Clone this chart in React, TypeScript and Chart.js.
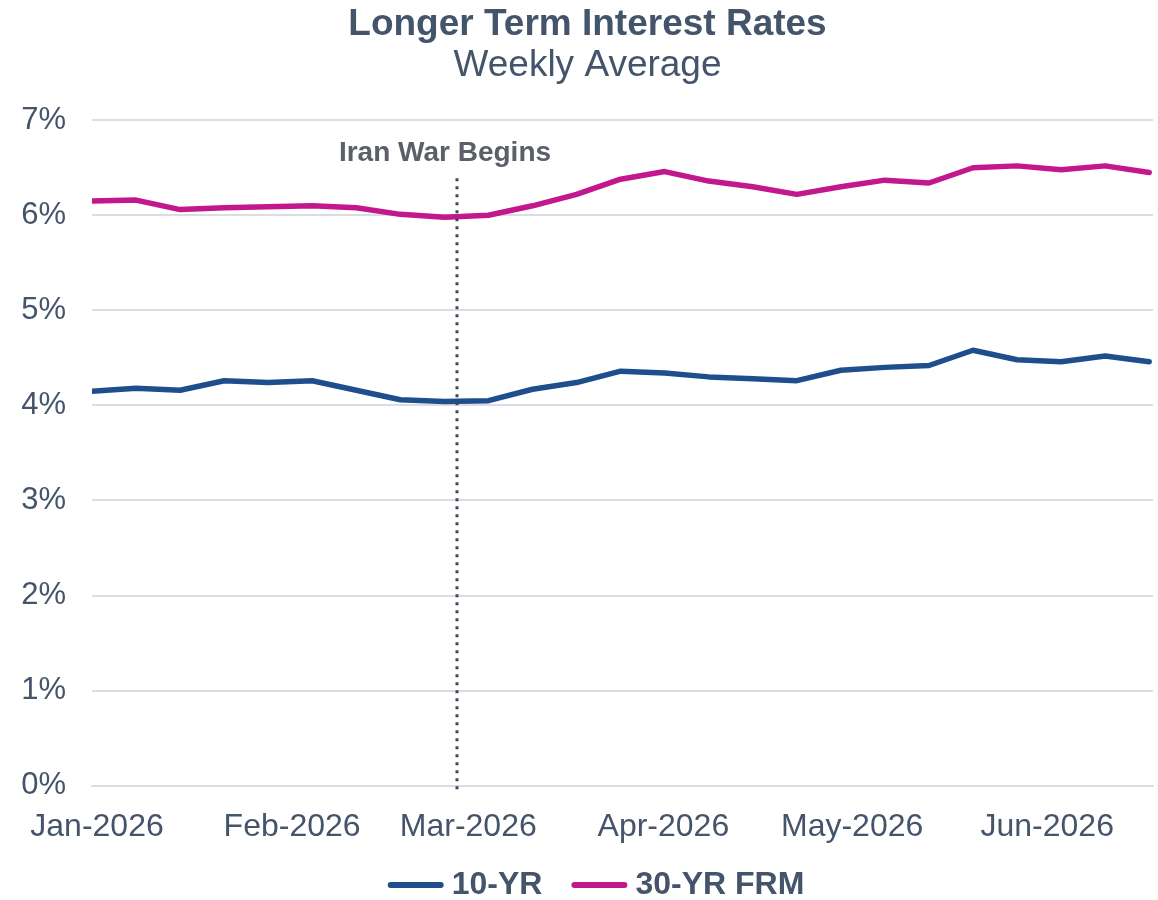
import React, { useEffect, useRef } from "react";
import { Chart, registerables } from "chart.js";

Chart.register(...registerables);

const FONT = "'Liberation Sans', Arial, sans-serif";
const TEXT_COLOR = "#44546A";

const weekDates = [
  "2026-01-01", "2026-01-08", "2026-01-15", "2026-01-22", "2026-01-29",
  "2026-02-05", "2026-02-12", "2026-02-19", "2026-02-26",
  "2026-03-05", "2026-03-12", "2026-03-19", "2026-03-26",
  "2026-04-02", "2026-04-09", "2026-04-16", "2026-04-23", "2026-04-30",
  "2026-05-07", "2026-05-14", "2026-05-21", "2026-05-28",
  "2026-06-04", "2026-06-11", "2026-06-18",
];

const tenYear = [
  4.15, 4.18, 4.16, 4.26, 4.24, 4.26, 4.16, 4.06, 4.04,
  4.05, 4.17, 4.24, 4.36, 4.34, 4.30, 4.28, 4.26,
  4.37, 4.40, 4.42, 4.58, 4.48, 4.46, 4.52, 4.46,
];

const thirtyYearFrm = [
  6.15, 6.16, 6.06, 6.08, 6.09, 6.10, 6.08, 6.01, 5.98,
  6.00, 6.10, 6.22, 6.38, 6.46, 6.36, 6.30, 6.22,
  6.30, 6.37, 6.34, 6.50, 6.52, 6.48, 6.52, 6.45,
];

const monthTickDates = ["2026-01-01", "2026-02-01", "2026-03-01", "2026-04-01", "2026-05-01", "2026-06-01"];
const monthTickLabels = ["Jan-2026", "Feb-2026", "Mar-2026", "Apr-2026", "May-2026", "Jun-2026"];

const yTicks = [0, 1, 2, 3, 4, 5, 6, 7];

const eventDate = "2026-02-28";
const eventLabel = "Iran War Begins";

const seriesNames = ["10-YR", "30-YR FRM"];
const seriesColors = ["#1F4E8C", "#C2188B"];

const ORIGIN = Date.UTC(2026, 0, 1);
function dayOf(s: string): number {
  const [y, m, d] = s.split("-").map(Number);
  return (Date.UTC(y, m - 1, d) - ORIGIN) / 86400000;
}

const eventPlugin = {
  id: "eventLine",
  afterDatasetsDraw(chart: any) {
    const { ctx, scales } = chart;
    const x = scales.x.getPixelForValue(dayOf(eventDate));
    const yTop = scales.y.getPixelForValue(6.39);
    const yBottom = scales.y.getPixelForValue(0) + 4;
    ctx.save();
    ctx.strokeStyle = "#404854";
    ctx.lineWidth = 3;
    ctx.setLineDash([3, 5]);
    ctx.beginPath();
    ctx.moveTo(x, yTop);
    ctx.lineTo(x, yBottom);
    ctx.stroke();
    ctx.setLineDash([]);
    ctx.fillStyle = "#5B6068";
    ctx.font = `bold 28px ${FONT}`;
    ctx.textAlign = "center";
    ctx.textBaseline = "middle";
    ctx.fillText(eventLabel, x - 12, scales.y.getPixelForValue(6.65));
    ctx.restore();
  },
};

const legendPlugin = {
  id: "lineLegend",
  afterDraw(chart: any) {
    const { ctx, width, height } = chart;
    const lineLen = 56;
    const gap = 8;
    const itemGap = 29;
    ctx.save();
    ctx.font = `bold 32px ${FONT}`;
    const items = chart.data.datasets.map((ds: any) => ({
      label: ds.label,
      color: ds.borderColor,
      w: lineLen + gap + ctx.measureText(ds.label).width,
    }));
    const total = items.reduce((s: number, it: any) => s + it.w, 0) + itemGap * (items.length - 1);
    let x = width / 2 + 17 - total / 2;
    const y = height - 15;
    for (const it of items) {
      ctx.strokeStyle = it.color;
      ctx.lineWidth = 6;
      ctx.lineCap = "round";
      ctx.beginPath();
      ctx.moveTo(x + 3, y);
      ctx.lineTo(x + lineLen - 3, y);
      ctx.stroke();
      ctx.fillStyle = TEXT_COLOR;
      ctx.textAlign = "left";
      ctx.textBaseline = "middle";
      ctx.fillText(it.label, x + lineLen + gap, y);
      x += it.w + itemGap;
    }
    ctx.restore();
  },
};

export default function App() {
  const ref = useRef<HTMLCanvasElement | null>(null);

  useEffect(() => {
    document.body.style.margin = "0";
    const canvas = ref.current;
    if (!canvas) return;
    const monthDays = monthTickDates.map(dayOf);
    const chart = new Chart(canvas, {
      type: "line",
      data: {
        datasets: [
          {
            label: seriesNames[0],
            data: weekDates.map((d, i) => ({ x: dayOf(d), y: tenYear[i] })),
            borderColor: seriesColors[0],
            backgroundColor: seriesColors[0],
            borderWidth: 5.5,
            pointRadius: 0,
            borderJoinStyle: "round",
            borderCapStyle: "round",
            tension: 0,
          },
          {
            label: seriesNames[1],
            data: weekDates.map((d, i) => ({ x: dayOf(d), y: thirtyYearFrm[i] })),
            borderColor: seriesColors[1],
            backgroundColor: seriesColors[1],
            borderWidth: 5.5,
            pointRadius: 0,
            borderJoinStyle: "round",
            borderCapStyle: "round",
            tension: 0,
          },
        ],
      },
      options: {
        animation: false,
        responsive: false,
        maintainAspectRatio: false,
        layout: { padding: { left: 22, right: 5, top: 0, bottom: 32 } },
        plugins: {
          title: {
            display: true,
            text: "Longer Term Interest Rates",
            color: TEXT_COLOR,
            font: { family: FONT, size: 37, weight: "bold", lineHeight: 1.1 },
            padding: { top: 4, bottom: 0 },
          },
          subtitle: {
            display: true,
            text: "Weekly Average",
            color: TEXT_COLOR,
            font: { family: FONT, size: 37, weight: "normal", lineHeight: 1.15 },
            padding: { top: 0, bottom: 33 },
          },
          legend: { display: false },
          tooltip: { enabled: false },
        },
        scales: {
          x: {
            type: "linear",
            min: 0,
            max: 168.6,
            afterBuildTicks: (scale: any) => {
              scale.ticks = monthDays.map((v) => ({ value: v }));
            },
            afterFit: (scale: any) => {
              scale.paddingLeft = 0;
              scale.paddingRight = 0;
            },
            grid: { display: false, drawTicks: false },
            border: { display: true, color: "#D9DEE4", width: 2 },
            ticks: {
              autoSkip: false,
              maxRotation: 0,
              padding: 22,
              labelOffset: 5,
              color: TEXT_COLOR,
              font: { family: FONT, size: 32 },
              callback: (v: any) => {
                const idx = monthDays.indexOf(Number(v));
                return idx >= 0 ? monthTickLabels[idx] : "";
              },
            },
          },
          y: {
            type: "linear",
            min: 0,
            max: 7,
            afterBuildTicks: (scale: any) => {
              scale.ticks = yTicks.map((v) => ({ value: v }));
            },
            afterFit: (scale: any) => {
              scale.width = 70;
            },
            grid: { color: "#D9DEE4", lineWidth: 2, drawTicks: false },
            border: { display: false },
            ticks: {
              padding: 26,
              color: TEXT_COLOR,
              font: { family: FONT, size: 31 },
              callback: (v: any) => `${v}%`,
            },
          },
        },
      },
      plugins: [eventPlugin, legendPlugin],
    } as any);
    return () => chart.destroy();
  }, []);

  return (
    <div style={{ width: 1158, height: 900 }}>
      <canvas ref={ref} width={1158} height={900} style={{ display: "block" }} />
    </div>
  );
}
